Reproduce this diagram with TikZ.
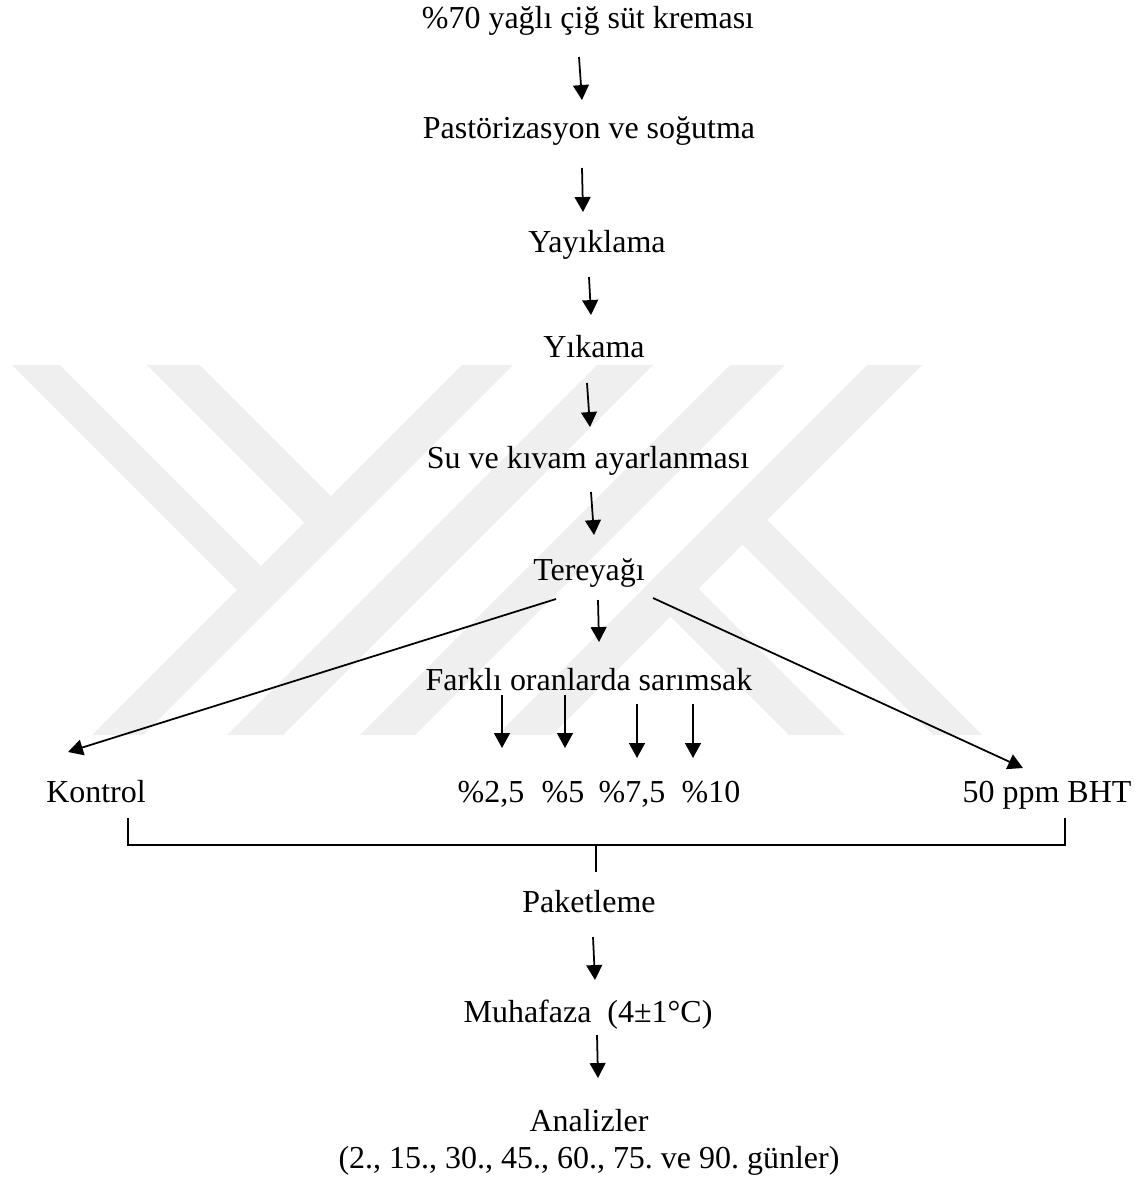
\documentclass[tikz,border=0pt]{standalone}
\usepackage{fontspec}
\setmainfont{Liberation Serif}
\usepackage{tikz}
\usetikzlibrary{arrows.meta}
\definecolor{wmgray}{HTML}{EFEFEF}
\frenchspacing
\tikzset{
  stage/.style={anchor=base, inner sep=0pt, align=center, font=\fontsize{18.2}{20.5}\selectfont},
  arr/.style={-{Triangle[length=8.5pt,width=9pt]}, line width=1pt},
  bracket/.style={line width=1pt},
  wm/.style={fill=wmgray, draw=none},
}
\begin{document}
\begin{tikzpicture}[x=0.02cm, y=-0.02cm]
\useasboundingbox (0,0) rectangle (1146,1180);
% watermark stripes
\fill[wm] (12,365) -- (60,365) -- (267.5,572.5) -- (243.5,596.5) -- cycle;
\fill[wm] (147,365) -- (200,365) -- (337.5,502.5) -- (311,529) -- cycle;
\fill[wm] (462,365) -- (513,365) -- (143,735) -- (92,735) -- cycle;
\fill[wm] (597,365) -- (653,365) -- (283,735) -- (227,735) -- cycle;
\fill[wm] (730,365) -- (785,365) -- (415,735) -- (360,735) -- cycle;
\fill[wm] (867,365) -- (922,365) -- (552,735) -- (497,735) -- cycle;
\fill[wm] (729,531) -- (753.5,506.5) -- (982,735) -- (933,735) -- cycle;
\fill[wm] (643,589) -- (671,561) -- (845,735) -- (789,735) -- cycle;

% main chain
\node[stage] (cream) at (588,28) {\%70 yağlı çiğ süt kreması};
\node[stage] (past) at (589,138) {Pastörizasyon ve soğutma};
\node[stage] (yayik) at (597,252) {Yayıklama};
\node[stage] (yika) at (594,357) {Yıkama};
\node[stage] (kivam) at (588,468) {Su ve kıvam ayarlanması};
\node[stage] (tereyag) at (589,580) {Tereyağı};
\node[stage] (sarim) at (589,690) {Farklı oranlarda sarımsak};

\node[stage] (kontrol) at (96,802) {Kontrol};
\node[stage] (p25) at (491,802) {\%2,5};
\node[stage] (p5) at (563,802) {\%5};
\node[stage] (p75) at (632,802) {\%7,5};
\node[stage] (p10) at (711,802) {\%10};
\node[stage] (bht) at (1047,802) {50 ppm BHT};

\node[stage] (paket) at (589,912) {Paketleme};
\node[stage] (muhafaza) at (588,1022) {Muhafaza\ \ (4±1°C)};
\node[stage] (analiz) at (589,1168) {Analizler\\(2., 15., 30., 45., 60., 75. ve 90. günler)};

\draw[arr] ([shift={(-9,29)}]cream.base) -- ([shift={(-7,-38)}]past.base);
\draw[arr] ([shift={(-7,30)}]past.base) -- ([shift={(-14,-40)}]yayik.base);
\draw[arr] ([shift={(-8,25)}]yayik.base) -- ([shift={(-3,-42)}]yika.base);
\draw[arr] ([shift={(-7,26)}]yika.base) -- ([shift={(2,-41)}]kivam.base);
\draw[arr] ([shift={(3,24)}]kivam.base) -- ([shift={(5,-45)}]tereyag.base);
\draw[arr] ([shift={(9,20)}]tereyag.base) -- ([shift={(10,-48)}]sarim.base);
\draw[arr] ([shift={(-33,19)}]tereyag.base) -- ([shift={(-28,-50)}]kontrol.base);
\draw[arr] ([shift={(64,18)}]tereyag.base) -- ([shift={(-24,-34)}]bht.base);

\draw[arr] ([shift={(-87,5)}]sarim.base) -- ([shift={(11,-54)}]p25.base);
\draw[arr] ([shift={(-24,5)}]sarim.base) -- ([shift={(2,-54)}]p5.base);
\draw[arr] ([shift={(48,14)}]sarim.base) -- ([shift={(5,-44)}]p75.base);
\draw[arr] ([shift={(104,14)}]sarim.base) -- ([shift={(-18,-44)}]p10.base);

\draw[bracket] ([shift={(32,16)}]kontrol.base) -- ++(0,27) -| ([shift={(18,16)}]bht.base);
\draw[bracket] ([shift={(7,-67)}]paket.base) -- ([shift={(7,-40)}]paket.base);

\draw[arr] ([shift={(4,25)}]paket.base) -- ([shift={(7,-42)}]muhafaza.base);
\draw[arr] ([shift={(9,13)}]muhafaza.base) -- ([shift={(9,-90)}]analiz.base);
\end{tikzpicture}
\end{document}
